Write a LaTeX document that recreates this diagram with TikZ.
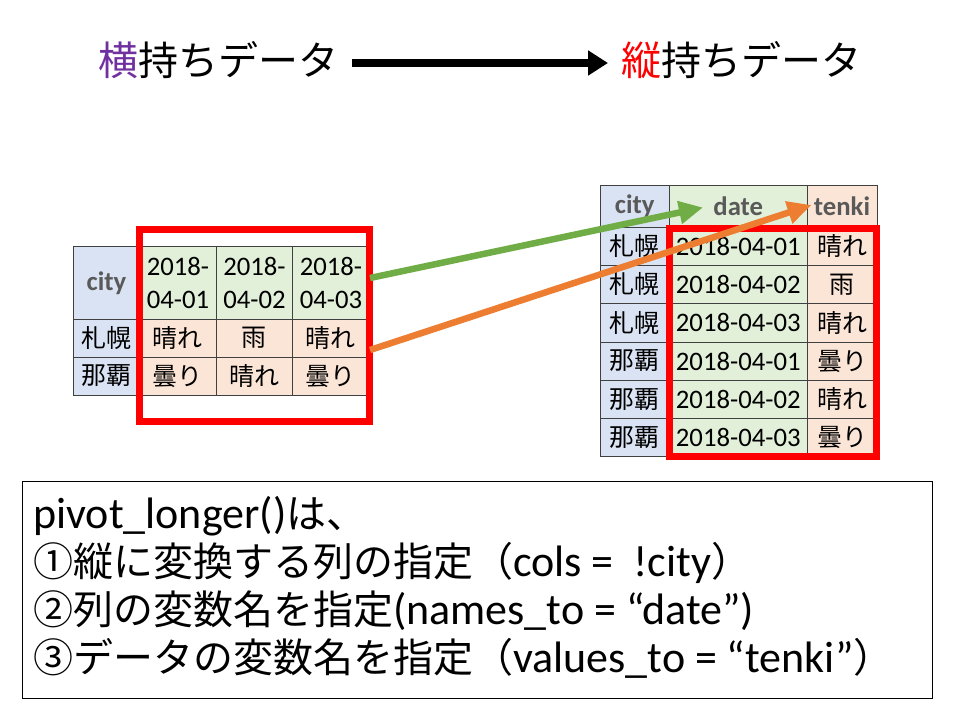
\documentclass[tikz,border=0pt]{standalone}
\usepackage{fontspec}
\setmainfont{Carlito}
\newfontfamily\cjk{Noto Sans CJK JP}
\usetikzlibrary{arrows.meta}
\definecolor{gridc}{HTML}{404040}
\definecolor{hdrgrey}{HTML}{595959}
\definecolor{cblue}{HTML}{DAE3F3}
\definecolor{cgreen}{HTML}{E2F0D9}
\definecolor{corange}{HTML}{FBE5D6}
\definecolor{tpurple}{HTML}{7030A0}
\definecolor{pred}{HTML}{FF0000}
\definecolor{agreen}{HTML}{70AD47}
\definecolor{aorange}{HTML}{ED7D31}
\newcommand\myjp[1]{{\cjk\fontsize{40}{48}\selectfont #1}}
\begin{document}
\begin{tikzpicture}[x=1pt,y=-1pt,
  cell/.style={draw=gridc, line width=0.8pt, inner sep=0pt, text=black,
    font=\fontsize{26.7}{32.6}\selectfont},
  jcell/.style={cell, font={\cjk\fontsize{25}{30}\selectfont}},
  hcell/.style={cell, text=hdrgrey, font={\bfseries\fontsize{26.7}{32.6}\selectfont}},
  redbox/.style={draw=pred, line width=7pt, inner sep=0pt},
  titlearrow/.style={line width=8pt, -{Triangle[length=20pt,width=24pt]}},
  colarrow/.style={line width=6.5pt, -{Triangle[length=24pt,width=22pt]}},
  boxline/.style={anchor=base west, inner sep=0pt, font=\fontsize{44}{48}\selectfont}
]
\useasboundingbox (0,0) rectangle (960,720);
\fill[white] (0,0) rectangle (960,720);

% title
\node[anchor=east, inner sep=0pt, font={\cjk\fontsize{40}{48}\selectfont}] (t1) at (339,60)
  {\textcolor{tpurple}{横}持ちデータ};
\node[anchor=west, inner sep=0pt, font={\cjk\fontsize{40}{48}\selectfont}] (t2) at (621,60)
  {\textcolor{pred}{縦}持ちデータ};
\draw[titlearrow] ([shift={(13,3)}]t1.east) -- ([shift={(-13,3)}]t2.west);

% left (wide) table
\node[hcell, fill=cblue, minimum width=66.4pt, minimum height=72.3pt] (Lh0) at (106.5,282.85) {city};
\node[cell, fill=cgreen, align=center, minimum width=76.5pt, minimum height=72.3pt] (Lh1) at (177.95,282.85) {2018-\\04-01};
\node[cell, fill=cgreen, align=center, minimum width=76.5pt, minimum height=72.3pt] (Lh2) at (254.45,282.85) {2018-\\04-02};
\node[cell, fill=cgreen, align=center, minimum width=76.5pt, minimum height=72.3pt] (Lh3) at (330.95,282.85) {2018-\\04-03};
\node[jcell, fill=cblue, minimum width=66.4pt, minimum height=38pt] (La0) at (106.5,338) {札幌};
\node[jcell, fill=corange, minimum width=76.5pt, minimum height=38pt] (La1) at (177.95,338) {晴れ};
\node[jcell, fill=corange, minimum width=76.5pt, minimum height=38pt] (La2) at (254.45,338) {雨};
\node[jcell, fill=corange, minimum width=76.5pt, minimum height=38pt] (La3) at (330.95,338) {晴れ};
\node[jcell, fill=cblue, minimum width=66.4pt, minimum height=38pt] (Lb0) at (106.5,376) {那覇};
\node[jcell, fill=corange, minimum width=76.5pt, minimum height=38pt] (Lb1) at (177.95,376) {曇り};
\node[jcell, fill=corange, minimum width=76.5pt, minimum height=38pt] (Lb2) at (254.45,376) {晴れ};
\node[jcell, fill=corange, minimum width=76.5pt, minimum height=38pt] (Lb3) at (330.95,376) {曇り};

% right (long) table
\node[hcell, fill=cblue, minimum width=69.5pt, minimum height=42pt] (Rh0) at (634.75,206) {city};
\node[hcell, fill=cgreen, minimum width=137.5pt, minimum height=42pt] (Rh1) at (738.25,206) {date};
\node[hcell, fill=corange, minimum width=70pt, minimum height=42pt] (Rh2) at (842,206) {tenki};
\foreach \i/\c/\d/\w in {1/札幌/2018-04-01/晴れ, 2/札幌/2018-04-02/雨, 3/札幌/2018-04-03/晴れ,
                         4/那覇/2018-04-01/曇り, 5/那覇/2018-04-02/晴れ, 6/那覇/2018-04-03/曇り}{
  \pgfmathsetmacro\yy{227+38.3*(\i-0.5)}
  \node[jcell, fill=cblue, minimum width=69.5pt, minimum height=38.3pt] (R\i c) at (634.75,\yy) {\c};
  \node[cell, fill=cgreen, minimum width=137.5pt, minimum height=38.3pt] (R\i d) at (738.25,\yy) {\d};
  \node[jcell, fill=corange, minimum width=70pt, minimum height=38.3pt] (R\i w) at (842,\yy) {\w};
}

% red frames
\node[redbox, minimum width=229.8pt, minimum height=192pt] (Lred) at (254.6,325.5) {};
\node[redbox, minimum width=207.2pt, minimum height=228.2pt] (Rred) at (773.1,342.6) {};

% arrows
\coordinate (gS) at (370,278);
\coordinate (gT) at (703,207.5);
\coordinate (oS) at (370,350);
\coordinate (oT) at (811.5,205);
\draw[colarrow, agreen] (gS) -- (gT);
\draw[colarrow, aorange] (oS) -- (oT);

% explanation box
\node[draw=black, line width=1.3pt, inner sep=0pt, minimum width=910.4pt, minimum height=216.6pt] (box) at (477.5,590) {};
\node[boxline] (l1) at (33,528) {pivot\_longer()\myjp{は、}};
\node[boxline] (l2) at (33,576) {\myjp{①縦に変換する列の指定（}cols = \ !city\myjp{）}};
\node[boxline] (l3) at (33,624) {\myjp{②列の変数名を指定}(names\_to = “date”)};
\node[boxline] (l4) at (33,672) {\myjp{③データの変数名を指定（}values\_to = “tenki”\myjp{）}};
\end{tikzpicture}
\end{document}
